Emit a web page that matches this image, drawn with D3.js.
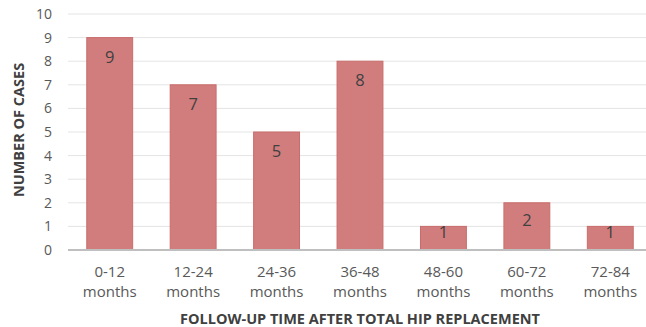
<!DOCTYPE html>
<html>
<head>
<meta charset="utf-8">
<script src="https://cdn.jsdelivr.net/npm/d3@7"></script>
<style>
  html, body { margin: 0; padding: 0; background: #fff; }
  svg text { font-family: "Open Sans", "Noto Sans", sans-serif; }
</style>
</head>
<body>
<svg id="chart" width="646" height="327"></svg>
<script>
// Follow-up intervals and case counts
const categories = ["0-12 months", "12-24 months", "24-36 months", "36-48 months", "48-60 months", "60-72 months", "72-84 months"];
const cases = [9, 7, 5, 8, 1, 2, 1];
const yTicks = [0, 1, 2, 3, 4, 5, 6, 7, 8, 9, 10];
const xTitle = "FOLLOW-UP TIME AFTER TOTAL HIP REPLACEMENT";
const yTitle = "NUMBER OF CASES";

const svg = d3.select("#chart");
const margin = { left: 68, right: -6, top: 14, bottom: 77 };
const W = 646, H = 327;

const x = d3.scaleBand()
  .domain(categories)
  .range([margin.left, W - margin.right])
  .paddingInner(0.45)
  .paddingOuter(0.225);

const y = d3.scaleLinear()
  .domain([0, 10])
  .range([H - margin.bottom, margin.top]);

// Horizontal gridlines
svg.append("g")
  .selectAll("line")
  .data(yTicks.filter(d => d > 0))
  .join("line")
  .attr("x1", margin.left)
  .attr("x2", W)
  .attr("y1", d => y(d))
  .attr("y2", d => y(d))
  .attr("stroke", "#e4e4e4")
  .attr("stroke-width", 1);

// Y axis tick labels
const yAxis = d3.axisLeft(y).tickValues(yTicks).tickSize(0).tickPadding(16);
svg.append("g")
  .attr("transform", `translate(${margin.left},0)`)
  .call(yAxis)
  .call(g => g.select(".domain").remove())
  .call(g => g.selectAll("text")
    .attr("font-size", 14)
    .attr("fill", "#595959")
    .style("font-family", "'Open Sans', sans-serif"));

const rows = categories.map((c, i) => ({ c, v: cases[i] }));

// Bars
svg.append("g")
  .selectAll("rect")
  .data(rows)
  .join("rect")
  .attr("x", d => x(d.c))
  .attr("y", d => y(d.v))
  .attr("width", x.bandwidth())
  .attr("height", d => y(0) - y(d.v))
  .attr("fill", "#d27d7d")
  .attr("stroke", "#c96c6c")
  .attr("stroke-width", 1);

// Value labels at the inside end of each bar; short bars keep the label within the bar
svg.append("g")
  .selectAll("text")
  .data(rows)
  .join("text")
  .attr("x", d => x(d.c) + x.bandwidth() / 2)
  .attr("y", d => y(d.v) + Math.min(25, (y(0) - y(d.v)) * 0.5))
  .attr("text-anchor", "middle")
  .attr("font-size", 16.5)
  .attr("fill", "#404040")
  .text(d => d.v);

// X axis baseline
svg.append("line")
  .attr("x1", margin.left)
  .attr("x2", W)
  .attr("y1", y(0))
  .attr("y2", y(0))
  .attr("stroke", "#bfbfbf")
  .attr("stroke-width", 2);

// X axis category labels on two lines
const xAxis = d3.axisBottom(x).tickSize(0).tickPadding(0);
const xg = svg.append("g")
  .attr("transform", `translate(0,${y(0)})`)
  .call(xAxis)
  .call(g => g.select(".domain").remove());
xg.selectAll("text").each(function(d) {
  const t = d3.select(this);
  const parts = d.split(" ");
  t.text(null)
    .attr("font-size", 15)
    .attr("fill", "#595959")
    .attr("y", 0)
    .attr("dy", null);
  t.append("tspan").attr("x", 0).attr("y", 27).text(parts[0]);
  t.append("tspan").attr("x", 0).attr("y", 47).text(parts[1]);
});

// Axis titles
svg.append("text")
  .attr("x", 360)
  .attr("y", 324)
  .attr("text-anchor", "middle")
  .attr("font-size", 14.5)
  .attr("font-weight", "bold")
  .attr("fill", "#404040")
  .text(xTitle);

svg.append("text")
  .attr("transform", `translate(24,130) rotate(-90)`)
  .attr("text-anchor", "middle")
  .attr("font-size", 14.5)
  .attr("font-weight", "bold")
  .attr("fill", "#404040")
  .text(yTitle);
</script>
</body>
</html>
